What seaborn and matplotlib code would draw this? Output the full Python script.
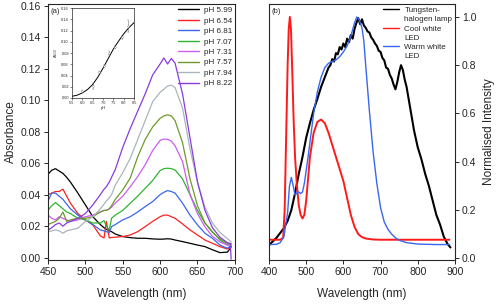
import numpy as np
import pandas as pd
import matplotlib
matplotlib.use("Agg")
import matplotlib.pyplot as plt
import seaborn as sns
from matplotlib.lines import Line2D

# ---- panel (a): absorbance spectra at different pH ----
wl_a = [450, 455, 460, 465, 470, 475, 480, 490, 500, 510, 520, 525, 528, 532, 535,
        540, 550, 560, 570, 580, 590, 600, 605, 610, 615, 620, 630, 640, 650, 660,
        670, 680, 690, 694, 695]

ph_labels = ["pH 5.99", "pH 6.54", "pH 6.81", "pH 7.07", "pH 7.31", "pH 7.57", "pH 7.94", "pH 8.22"]
ph_colors = ["#000000", "#ff2020", "#3a66f0", "#2fb52f", "#cc5cf2", "#6f9a2a", "#a9b6bc", "#8a3be0"]

abs_599 = [.053, .0555, .0565, .055, .0535, .051, .048, .041, .0335, .026, .021, .019, .018, .0172, .0165,
           .015, .0134, .0127, .0123, .0123, .0119, .0117, .0118, .012, .0118, .0112, .0102, .0091, .008, .007,
           .005, .0032, .0035, .006, .007]
abs_654 = [.040, .041, .042, .042, .0435, .039, .0346, .028, .024, .0208, .0138, .0125, .023, .0125, .0128,
           .013, .0134, .0144, .0165, .0197, .023, .026, .027, .027, .026, .025, .0214, .0176, .0144, .0112,
           .0091, .007, .0055, .0065, .007]
abs_681 = [.036, .041, .041, .039, .037, .034, .031, .027, .024, .021, .0176, .017, .0165, .016, .0197,
           .021, .024, .026, .029, .0324, .0356, .040, .0415, .0426, .042, .041, .0346, .027, .0208, .0155,
           .0123, .008, .006, .0075, .008]
abs_707 = [.030, .033, .035, .033, .031, .029, .028, .025, .024, .022, .022, .0235, .020, .0176, .025,
           .027, .030, .0346, .039, .044, .049, .0553, .0565, .0568, .0565, .0557, .050, .040, .030, .022,
           .0165, .0112, .008, .0085, .009]
abs_731 = [.027, .025, .024, .026, .025, .024, .023, .024, .026, .027, .029, .030, .030, .031, .032,
           .0346, .039, .045, .0515, .059, .068, .0745, .0753, .0752, .074, .071, .061, .040, .028, .0195,
           .0135, .010, .008, .0082, .0085]
abs_757 = [.021, .022, .023, .025, .029, .023, .024, .025, .025, .026, .029, .030, .030, .031, .033,
           .037, .043, .0505, .064, .075, .083, .0885, .090, .0907, .090, .087, .073, .050, .033, .022,
           .016, .012, .009, .009, .009]
abs_794 = [.0165, .017, .0176, .017, .0155, .017, .0176, .0187, .023, .026, .031, .034, .036, .038, .040,
           .046, .054, .063, .075, .087, .099, .105, .107, .109, .1095, .108, .095, .069, .048, .032,
           .022, .016, .012, .0105, .010]
abs_822 = [.0175, .019, .021, .022, .020, .022, .023, .025, .028, .0335, .040, .0435, .045, .048, .051,
           .056, .070, .082, .093, .104, .116, .123, .1268, .123, .1265, .1235, .104, .076, .048, .030,
           .019, .013, .0095, .009, -.001]

# inset: A610 vs pH
ph_pts = [5.99, 6.54, 6.81, 7.07, 7.31, 7.57, 7.94, 8.22]
a610_pts = [0.013, 0.021, 0.046, 0.057, 0.080, 0.091, 0.108, 0.128]
a610_err = [0.002, 0.005, 0.002, 0.002, 0.003, 0.002, 0.003, 0.010]
ph_fit = [5.5, 5.75, 6.0, 6.25, 6.5, 6.75, 7.0, 7.25, 7.5, 7.75, 8.0, 8.25, 8.5]
a610_fit = [0.003, 0.005, 0.009, 0.015, 0.024, 0.037, 0.053, 0.070, 0.087, 0.101, 0.114, 0.125, 0.134]

# ---- panel (b): normalised lamp spectra ----
wl_tung = [400, 410, 420, 430, 440, 450, 460, 470, 480, 490, 500, 510, 520, 530, 540, 550, 560, 565,
           570, 575, 580, 585, 590, 595, 600, 605, 610, 615, 620, 625, 630, 635, 640, 645, 650, 655,
           660, 665, 670, 675, 680, 685, 690, 695, 700, 705, 710, 715, 720, 725, 730, 735, 740, 745,
           750, 755, 760, 765, 770, 780, 790, 800, 810, 820, 830, 840, 850, 860, 870, 880, 888]
int_tung = [0.055, 0.07, 0.085, 0.105, 0.125, 0.155, 0.20, 0.27, 0.35, 0.42, 0.50, 0.56, 0.615, 0.66,
            0.71, 0.75, 0.79, 0.80, 0.825, 0.815, 0.85, 0.845, 0.875, 0.865, 0.89, 0.875, 0.91, 0.895,
            0.925, 0.91, 0.95, 0.975, 0.995, 0.97, 0.99, 0.965, 0.955, 0.94, 0.935, 0.915, 0.905, 0.89,
            0.88, 0.86, 0.855, 0.83, 0.82, 0.79, 0.785, 0.76, 0.745, 0.72, 0.70, 0.73, 0.77, 0.80,
            0.78, 0.74, 0.71, 0.62, 0.53, 0.46, 0.41, 0.35, 0.30, 0.24, 0.18, 0.14, 0.09, 0.06, 0.045]

wl_cool = [400, 430, 438, 442, 446, 450, 453, 456, 459, 462, 466, 470, 475, 480, 485, 490, 495, 500,
           505, 510, 520, 530, 540, 550, 560, 570, 580, 590, 600, 610, 620, 630, 640, 650, 660, 680,
           700, 800, 885]
int_cool = [0.077, 0.077, 0.085, 0.20, 0.50, 0.80, 0.95, 1.0, 0.95, 0.80, 0.58, 0.42, 0.30, 0.22, 0.18,
            0.165, 0.18, 0.24, 0.33, 0.42, 0.52, 0.565, 0.575, 0.56, 0.52, 0.47, 0.42, 0.37, 0.32, 0.25,
            0.18, 0.13, 0.10, 0.088, 0.082, 0.078, 0.077, 0.077, 0.077]

wl_warm = [400, 420, 430, 440, 450, 455, 460, 465, 470, 475, 480, 485, 490, 495, 500, 505, 510, 520,
           530, 540, 550, 560, 570, 580, 590, 600, 610, 620, 630, 636, 642, 650, 655, 660, 670, 680,
           690, 700, 710, 720, 730, 740, 750, 770, 800, 850, 886]
int_warm = [0.057, 0.058, 0.065, 0.09, 0.19, 0.30, 0.335, 0.30, 0.262, 0.27, 0.275, 0.268, 0.275, 0.31,
            0.365, 0.42, 0.48, 0.60, 0.69, 0.75, 0.79, 0.808, 0.815, 0.822, 0.835, 0.855, 0.88, 0.92,
            0.975, 1.0, 0.99, 0.955, 0.90, 0.80, 0.61, 0.44, 0.31, 0.21, 0.15, 0.12, 0.10, 0.085, 0.075,
            0.065, 0.059, 0.057, 0.057]

lamp_labels = ["Tungsten-halogen lamp", "Cool white LED", "Warm white LED"]
lamp_colors = ["#000000", "#ff1a1a", "#3a66f0"]

sns.set_style("ticks")
plt.rcParams['font.family'] = ['Liberation Sans', 'DejaVu Sans']
plt.rcParams['xtick.direction'] = 'out'
plt.rcParams['ytick.direction'] = 'out'

fig = plt.figure(figsize=(5.01, 3.05), dpi=100)
ax1 = fig.add_axes([0.0958, 0.1475, 0.373, 0.839])
ax2 = fig.add_axes([0.537, 0.1475, 0.371, 0.839])

# panel (a)
abs_series = [abs_599, abs_654, abs_681, abs_707, abs_731, abs_757, abs_794, abs_822]
df_a = pd.concat([pd.DataFrame({"wl": wl_a, "A": s, "pH": lab})
                  for s, lab in zip(abs_series, ph_labels)], ignore_index=True)
sns.lineplot(data=df_a, x="wl", y="A", hue="pH", palette=ph_colors, hue_order=ph_labels,
             linewidth=0.9, ax=ax1, legend=False, sort=False)
ax1.set_xlim(450, 700)
ax1.set_ylim(-0.0015, 0.161)
ax1.set_xticks([450, 500, 550, 600, 650, 700])
ax1.set_yticks(np.arange(0, 0.161, 0.02))
ax1.yaxis.set_major_formatter(matplotlib.ticker.FormatStrFormatter('%.2f'))
ax1.tick_params(labelsize=7.5, length=3, width=0.7, pad=2)
ax1.set_xlabel("Wavelength (nm)", fontsize=8.5, labelpad=8)
ax1.set_ylabel("Absorbance", fontsize=8.5, labelpad=3)
ax1.text(0.012, 0.985, "(a)", transform=ax1.transAxes, fontsize=5.5, va="top", ha="left")
handles_a = [Line2D([], [], color=c, lw=1) for c in ph_colors]
ax1.legend(handles_a, ph_labels, loc="upper right", frameon=False, fontsize=5.8,
           handlelength=2.6, handletextpad=0.6, labelspacing=0.35,
           borderaxespad=0.1, borderpad=0.2)

# inset
axi = fig.add_axes([0.1437, 0.6787, 0.1238, 0.295])
axi.plot(ph_fit, a610_fit, color="black", lw=0.7)
axi.errorbar(ph_pts, a610_pts, yerr=a610_err, fmt="o", ms=1.2, color="#777777",
             elinewidth=0.4, capsize=0.8, mfc="white", mew=0.3)
axi.set_xlim(5.5, 8.5)
axi.set_ylim(0, 0.16)
axi.set_xticks(np.arange(5.5, 8.51, 0.5))
axi.set_yticks(np.arange(0, 0.161, 0.02))
axi.yaxis.set_major_formatter(matplotlib.ticker.FormatStrFormatter('%.2f'))
axi.xaxis.set_major_formatter(matplotlib.ticker.FormatStrFormatter('%.1f'))
axi.tick_params(labelsize=2.8, length=1.2, width=0.4, pad=1)
axi.set_xlabel("pH", fontsize=3, labelpad=1)
axi.set_ylabel("A$_{610}$", fontsize=3, labelpad=1)
for sp in axi.spines.values():
    sp.set_linewidth(0.5)

# panel (b)
df_b = pd.concat([
    pd.DataFrame({"wl": wl_tung, "I": int_tung, "lamp": lamp_labels[0]}),
    pd.DataFrame({"wl": wl_cool, "I": int_cool, "lamp": lamp_labels[1]}),
    pd.DataFrame({"wl": wl_warm, "I": int_warm, "lamp": lamp_labels[2]}),
], ignore_index=True)
sns.lineplot(data=df_b[df_b.lamp == lamp_labels[0]], x="wl", y="I", color=lamp_colors[0],
             linewidth=1.5, ax=ax2, sort=False)
sns.lineplot(data=df_b[df_b.lamp == lamp_labels[1]], x="wl", y="I", color=lamp_colors[1],
             linewidth=1.4, ax=ax2, sort=False)
sns.lineplot(data=df_b[df_b.lamp == lamp_labels[2]], x="wl", y="I", color=lamp_colors[2],
             linewidth=1.0, ax=ax2, sort=False)
ax2.set_xlim(400, 900)
ax2.set_ylim(-0.007, 1.053)
ax2.set_xticks([400, 500, 600, 700, 800, 900])
ax2.set_yticks(np.arange(0, 1.01, 0.2))
ax2.yaxis.set_major_formatter(matplotlib.ticker.FormatStrFormatter('%.1f'))
ax2.yaxis.tick_right()
ax2.yaxis.set_label_position("right")
ax2.tick_params(labelsize=7.5, length=3, width=0.7, pad=2)
ax2.set_xlabel("Wavelength (nm)", fontsize=8.5, labelpad=8)
ax2.set_ylabel("Normalised Intensity", fontsize=8.5, labelpad=5)
ax2.text(0.012, 0.985, "(b)", transform=ax2.transAxes, fontsize=5.5, va="top", ha="left")
blank = Line2D([], [], color="none")
handles_b = [Line2D([], [], color=lamp_colors[0], lw=1), blank,
             Line2D([], [], color=lamp_colors[1], lw=1), blank,
             Line2D([], [], color=lamp_colors[2], lw=1), blank]
ax2.legend(handles_b, ["Tungsten-", "halogen lamp", "Cool white", "LED", "Warm white", "LED"],
           loc="upper right", frameon=False, fontsize=5.8, handlelength=2.0,
           handletextpad=0.7, labelspacing=0.2, borderaxespad=0.1, borderpad=0.2)

for ax in (ax1, ax2):
    for sp in ax.spines.values():
        sp.set_linewidth(0.8)

fig.savefig("out.png", dpi=100)
